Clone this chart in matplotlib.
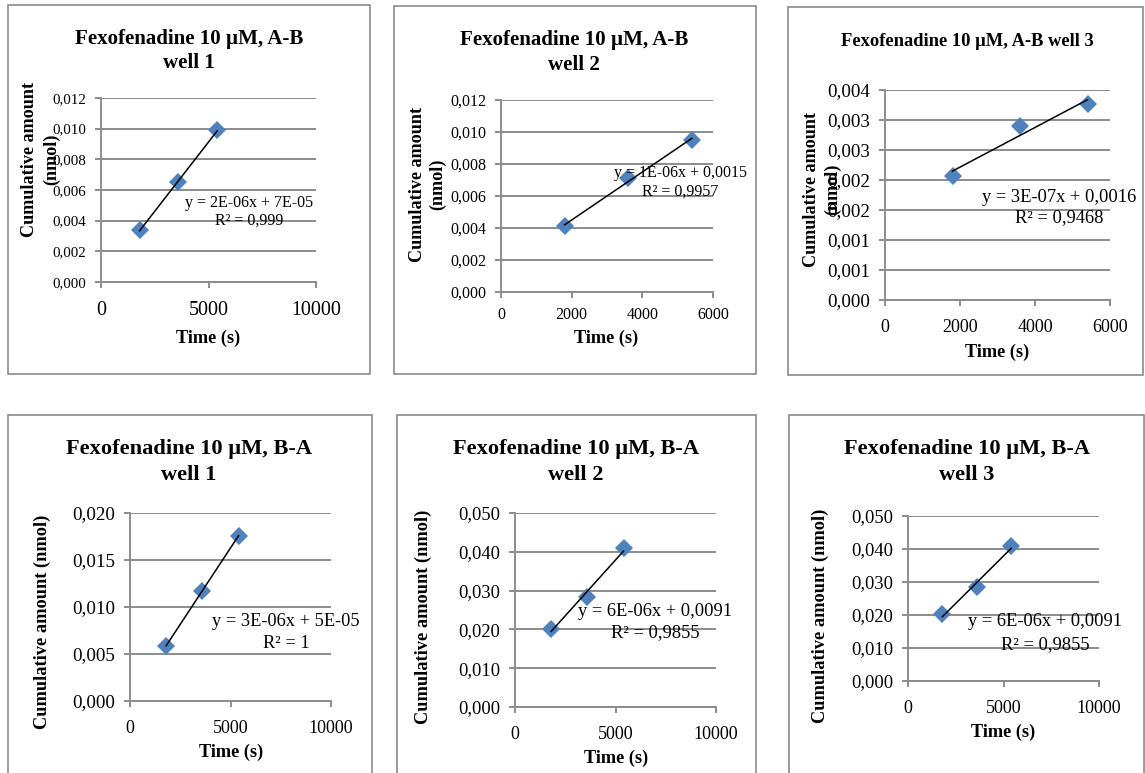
import numpy as np
import matplotlib
matplotlib.use("Agg")
import matplotlib.pyplot as plt
from matplotlib.patches import Rectangle
from decimal import Decimal, ROUND_HALF_UP

plt.rcParams['font.family'] = ['Liberation Serif', 'DejaVu Serif']

# ---------------- data ----------------
time_s = [1800, 3600, 5400]
ab_well1 = [0.0034, 0.0065, 0.0099]
ab_well2 = [0.0041, 0.0071, 0.0095]
ab_well3 = [0.00207, 0.0029, 0.00326]
ba_well1 = [0.0059, 0.0117, 0.0176]
ba_well2 = [0.0202, 0.0284, 0.0409]
ba_well3 = [0.0202, 0.0284, 0.0409]

titles = [
    ["Fexofenadine 10 µM, A-B", "well 1"],
    ["Fexofenadine 10 µM, A-B", "well 2"],
    ["Fexofenadine 10 µM, A-B well 3"],
    ["Fexofenadine 10 µM, B-A", "well 1"],
    ["Fexofenadine 10 µM, B-A", "well 2"],
    ["Fexofenadine 10 µM, B-A", "well 3"],
]
equations = [
    ["y = 2E-06x + 7E-05", "R² = 0,999"],
    ["y = 1E-06x + 0,0015", "R² = 0,9957"],
    ["y = 3E-07x + 0,0016", "R² = 0,9468"],
    ["y = 3E-06x + 5E-05", "R² = 1"],
    ["y = 6E-06x + 0,0091", "R² = 0,9855"],
    ["y = 6E-06x + 0,0091", "R² = 0,9855"],
]
x_ticks_10k = [0, 5000, 10000]
x_ticks_6k = [0, 2000, 4000, 6000]
y_ticks_012 = [0.000, 0.002, 0.004, 0.006, 0.008, 0.010, 0.012]
y_ticks_0035 = [0.0000, 0.0005, 0.0010, 0.0015, 0.0020, 0.0025, 0.0030, 0.0035]
y_ticks_020 = [0.000, 0.005, 0.010, 0.015, 0.020]
y_ticks_050 = [0.000, 0.010, 0.020, 0.030, 0.040, 0.050]
y_label_lines_split = ["Cumulative amount", "(nmol)"]
y_label_single = "Cumulative amount (nmol)"
x_label = "Time (s)"

W, H = 1145, 773
fig = plt.figure(figsize=(W / 100, H / 100), dpi=100)
fig.patch.set_facecolor('white')

PT = 0.72  # px -> pt at dpi 100
GRID = '#8c8c8c'
BLUE = '#4F81BD'


def fx(x):
    return x / W


def fy(y):
    return 1 - y / H


def ftext(x, y, s, size_px, bold=False, rot=0):
    fig.text(fx(x), fy(y), s, ha='center', va='center', rotation=rot,
             fontsize=size_px * PT, fontweight='bold' if bold else 'normal',
             color='black', zorder=10)


def fmt_comma(v):
    d = Decimal(repr(v)).quantize(Decimal('0.001'), rounding=ROUND_HALF_UP)
    return str(d).replace('.', ',')


panels = [
    dict(data=ab_well1, box=(8, 370, 5, 374), ax=(101, 316, 98, 282),
         xt=x_ticks_10k, yt=y_ticks_012, xfs=20, yfs=15,
         title_xy=[(189, 39), (189, 63)], tfs=21,
         eq_xy=[(249, 203), (249, 221)], efs=16,
         ylab=[(30, 159), (52, 159)], xlab=(208, 338)),
    dict(data=ab_well2, box=(394, 756, 6, 374), ax=(501, 713, 100, 292),
         xt=x_ticks_6k, yt=y_ticks_012, xfs=16, yfs=16,
         title_xy=[(574, 40), (574, 65)], tfs=21,
         eq_xy=[(680, 173), (680, 192)], efs=16,
         ylab=[(418, 184), (438, 184)], xlab=(606, 338)),
    dict(data=ab_well3, box=(788, 1143, 7, 375), ax=(885, 1110, 90, 300),
         xt=x_ticks_6k, yt=y_ticks_0035, xfs=18, yfs=19,
         title_xy=[(967, 42)], tfs=18.5,
         eq_xy=[(1059, 197), (1059, 218)], efs=18.5,
         ylab=[(812, 189), (833, 189)], xlab=(997, 352)),
    dict(data=ba_well1, box=(8, 372, 415, 800), ax=(130, 331, 513, 701),
         xt=x_ticks_10k, yt=y_ticks_020, xfs=18, yfs=19,
         title_xy=[(189, 449), (189, 475)], tfs=22.4,
         eq_xy=[(286, 622), (286, 644)], efs=18.4,
         ylab=[(42, 622)], xlab=(231, 752)),
    dict(data=ba_well2, box=(397, 756, 415, 800), ax=(515, 716, 513, 707),
         xt=x_ticks_10k, yt=y_ticks_050, xfs=18, yfs=18.5,
         title_xy=[(576, 449), (576, 475)], tfs=22.4,
         eq_xy=[(655, 611), (655, 633)], efs=18.5,
         ylab=[(423, 617)], xlab=(616, 758)),
    dict(data=ba_well3, box=(789, 1144, 415, 800), ax=(908, 1099, 516, 681),
         xt=x_ticks_10k, yt=y_ticks_050, xfs=18, yfs=18.5,
         title_xy=[(967, 449), (967, 475)], tfs=22.4,
         eq_xy=[(1045, 622), (1045, 645)], efs=18.5,
         ylab=[(820, 616)], xlab=(1003, 732)),
]

for i, p in enumerate(panels):
    bl, br, bt, bb = p['box']
    fig.patches.append(Rectangle((fx(bl), fy(bb)), fx(br) - fx(bl), fy(bt) - fy(bb),
                                 transform=fig.transFigure, fill=False,
                                 edgecolor='#8a8a8a', linewidth=1.2, zorder=0))
    l, r, t, b = p['ax']
    ax = fig.add_axes([fx(l), fy(b), fx(r) - fx(l), fy(t) - fy(b)])
    ax.set_facecolor('none')
    ax.set_xlim(p['xt'][0], p['xt'][-1])
    ax.set_ylim(p['yt'][0], p['yt'][-1])
    ax.set_xticks(p['xt'])
    ax.set_xticklabels([str(v) for v in p['xt']], fontsize=p['xfs'] * PT)
    ax.set_yticks(p['yt'])
    ax.set_yticklabels([fmt_comma(v) for v in p['yt']], fontsize=p['yfs'] * PT)
    for s in ['top', 'right']:
        ax.spines[s].set_visible(False)
    for s in ['left', 'bottom']:
        ax.spines[s].set_color(GRID)
        ax.spines[s].set_linewidth(1.4)
    ax.yaxis.grid(True, color=GRID, linewidth=1.4)
    ax.xaxis.grid(False)
    ax.set_axisbelow(True)
    ax.tick_params(axis='both', direction='out', length=4, width=1.4, color=GRID)
    ax.tick_params(axis='x', pad=(13 if i != 1 else 9) * PT)
    ax.tick_params(axis='y', pad=9 * PT)

    x = np.array(time_s, dtype=float)
    y = np.array(p['data'], dtype=float)
    slope, icpt = np.polyfit(x, y, 1)
    xl = np.array([x.min(), x.max()])
    ax.plot(x, y, linestyle='none', marker='D', markersize=9, color=BLUE,
            markeredgewidth=0, zorder=3, clip_on=False)
    ax.plot(xl, slope * xl + icpt, color='black', linewidth=1.1, zorder=4)

    for (tx, ty), s in zip(p['title_xy'], titles[i]):
        ftext(tx, ty, s, p['tfs'], bold=True)
    for (tx, ty), s in zip(p['eq_xy'], equations[i]):
        ftext(tx, ty, s, p['efs'])
    if len(p['ylab']) == 2:
        for (tx, ty), s in zip(p['ylab'], y_label_lines_split):
            ftext(tx, ty, s, 18.2, bold=True, rot=90)
    else:
        tx, ty = p['ylab'][0]
        ftext(tx, ty, y_label_single, 18.4, bold=True, rot=90)
    ftext(p['xlab'][0], p['xlab'][1], x_label, 18.3, bold=True)

fig.savefig('out.png', dpi=100, facecolor='white')
